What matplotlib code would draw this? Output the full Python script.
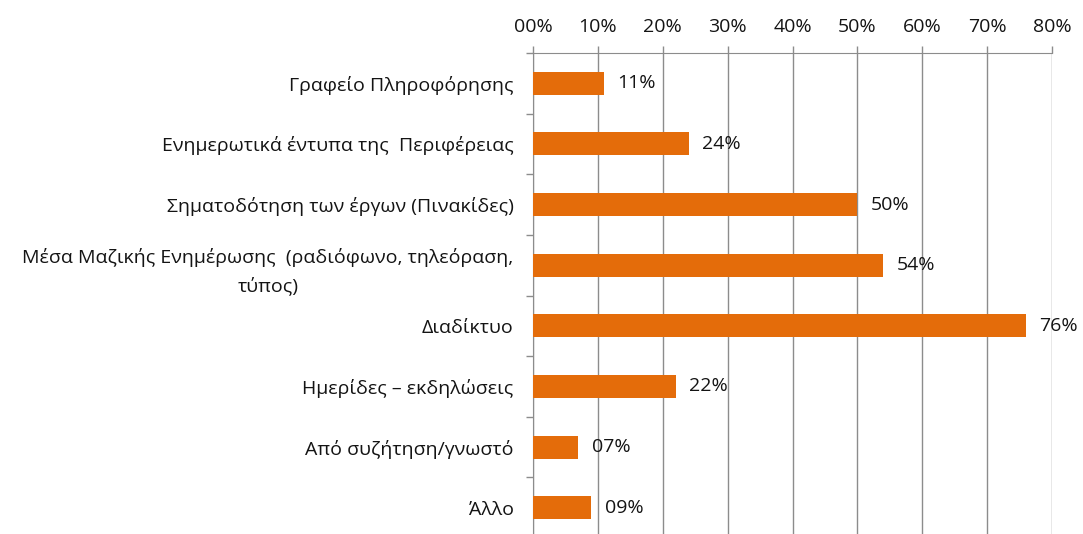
import matplotlib
matplotlib.use('Agg')
import matplotlib.pyplot as plt
import numpy as np

plt.rcParams['font.family'] = ['Open Sans', 'DejaVu Sans']

# δεδομένα
categories = ['Γραφείο Πληροφόρησης',
              'Ενημερωτικά έντυπα της  Περιφέρειας',
              'Σηματοδότηση των έργων (Πινακίδες)',
              'Μέσα Μαζικής Ενημέρωσης  (ραδιόφωνο, τηλεόραση,\nτύπος)',
              'Διαδίκτυο',
              'Ημερίδες – εκδηλώσεις',
              'Από συζήτηση/γνωστό',
              'Άλλο']
values = [11, 24, 50, 54, 76, 22, 7, 9]
value_labels = ['11%', '24%', '50%', '54%', '76%', '22%', '07%', '09%']
x_ticks = [0, 10, 20, 30, 40, 50, 60, 70, 80]
x_ticklabels = ['00%', '10%', '20%', '30%', '40%', '50%', '60%', '70%', '80%']

cor_barra = '#E46C0A'
cor_grade = '#8c8c8c'
cor_texto = '#141414'
fs = 14

fig = plt.figure(figsize=(10.83, 5.34), dpi=100)
ax = fig.add_axes([533/1083, 1 - 538/534, (1052-533)/1083, (538-53)/534])

y = np.arange(len(categories))
ax.barh(y, values, height=0.38, color=cor_barra, zorder=3)

for yi, v, lab in zip(y, values, value_labels):
    ax.annotate(lab, (v, yi), xytext=(9.5, 0), textcoords='offset points',
                va='center', ha='left', fontsize=fs, color=cor_texto, zorder=4)

ax.set_xlim(0, 80)
ax.set_ylim(len(categories) - 0.5, -0.5)
ax.xaxis.tick_top()
ax.set_xticks(x_ticks)
ax.set_xticklabels(x_ticklabels, fontsize=fs, color=cor_texto)
ax.tick_params(axis='x', length=5, width=1, color=cor_grade, pad=7.5)
ax.grid(axis='x', color=cor_grade, linewidth=1, zorder=0)

ax.set_yticks(y)
ax.set_yticklabels(categories, fontsize=fs, color=cor_texto,
                   multialignment='center', linespacing=1.6)
ax.set_yticks(np.arange(len(categories) + 1) - 0.5, minor=True)
ax.tick_params(axis='y', which='major', length=0, pad=14)
ax.tick_params(axis='y', which='minor', length=5, width=1, color=cor_grade)

for s in ['right', 'bottom']:
    ax.spines[s].set_visible(False)
ax.spines['top'].set_color(cor_grade)
ax.spines['left'].set_color(cor_grade)

fig.savefig('out.png', dpi=100)
